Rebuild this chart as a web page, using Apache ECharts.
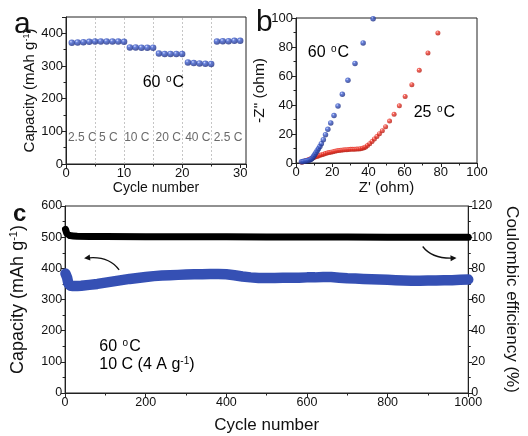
<!DOCTYPE html>
<html>
<head>
<meta charset="utf-8">
<script src="https://cdn.jsdelivr.net/npm/echarts@6/dist/echarts.min.js"></script>
<style>
html,body{margin:0;padding:0;background:#fff;}
#chart{width:528px;height:436px;}
</style>
</head>
<body>
<div id="chart"></div>
<script>
// ---------- Panel a: rate capability ----------
var rateCycles = [1,2,3,4,5,6,7,8,9,10,11,12,13,14,15,16,17,18,19,20,21,22,23,24,25,26,27,28,29,30];
var rateCapacity = [371,372,373,374,375,375,375,375,375,374,357,357,356,356,356,338,337,337,337,337,311,309,308,307,306,375,376,376,377,377];
var rateDividers = [5,10,15,20,25];
var rateNames = ['2.5 C','5 C','10 C','20 C','40 C','2.5 C'];
var rateNameX = [2.8,7.3,12.2,17.6,22.7,27.9];
var rateNameY = 82;

// ---------- Panel b: Nyquist plots ----------
var eis60 = [[3.0,0.8],[3.8,1.0],[4.5,1.2],[5.3,1.4],[6.0,1.6],[6.7,1.8],[7.4,2.1],[8.1,2.5],[8.7,3.0],[9.3,3.8],[9.8,4.8],[10.4,5.8],[11.0,7.0],[11.7,8.4],[12.4,9.8],[13.2,11.3],[14.0,13.3],[15.1,16.0],[16.3,19.5],[17.6,23.2],[19.2,27.6],[21.0,32.7],[23.2,39.3],[25.6,47.4],[28.7,57.0],[32.6,68.7],[37.1,82.8],[42.6,99.5]];
var eis25 = [[3.2,0.5],[4.0,0.9],[4.8,1.3],[5.6,1.7],[6.4,2.1],[7.2,2.5],[8.0,2.9],[8.8,3.3],[9.6,3.7],[10.5,4.1],[11.4,4.5],[12.3,4.9],[13.2,5.3],[14.2,5.7],[15.2,6.1],[16.2,6.5],[17.2,6.9],[18.2,7.2],[19.3,7.5],[20.4,7.8],[21.5,8.1],[22.6,8.4],[23.7,8.6],[24.8,8.8],[25.9,9.0],[27.0,9.1],[28.1,9.2],[29.2,9.3],[30.3,9.4],[31.4,9.4],[32.5,9.5],[33.6,9.6],[34.7,9.7],[35.7,9.9],[36.7,10.2],[37.6,10.6],[38.5,11.1],[39.5,12.0],[40.7,13.3],[42.0,14.9],[43.3,16.6],[44.7,18.3],[46.1,20.2],[47.7,22.3],[49.5,25.0],[51.7,28.9],[54.2,33.6],[57.1,39.4],[60.3,45.9],[64.0,54.0],[68.1,63.9],[72.9,75.9],[78.4,89.7]];

// ---------- Panel c: long cycling ----------
var longCycles = [1,3,5,8,12,20,30,40,60,80,100,120,140,160,180,200,220,240,260,280,300,320,340,360,380,400,420,440,460,480,500,520,540,560,580,600,620,640,660,680,700,720,740,760,780,800,820,840,860,880,900,920,940,960,980,1000];
var longCapacity = [383,380,370,352,345,343,343,344,347,350,354,358,362,366,369,372,375,377,378,379,380,381,381,382,382,381,378,374,371,369,369,369,370,370,370,371,371,372,372,370,368,367,366,365,364,363,362,361,360,360,361,361,362,362,363,364];
var effCycles = [1,2,4,6,8,12,20,30,60,100,200,300,400,500,600,700,800,900,1000];
var effValues = [105,104.5,102.5,101.8,101.3,101,100.8,100.6,100.5,100.4,100.3,100.3,100.2,100.1,100.1,100.1,100,100,100];

var FONT = '"Liberation Sans", Arial, sans-serif';
var BLUE = '#3550b4';

function sphere(c1, c2, c3){
  return {type:'radial', x:0.36, y:0.32, r:0.72,
    colorStops:[{offset:0,color:c1},{offset:0.3,color:c2},{offset:1,color:c3}]};
}
var blueBall = sphere('#c8d4ff','#3f5fcf','#1a2a7c');
var redBall = sphere('#ffd8d4','#f03a2e','#b01a10');

function pair(xs, ys){ return xs.map(function(x,i){ return [x, ys[i]]; }); }

function mkAxisX(grid, min, max, interval, name, gap, fs, labelFs){
  return {gridIndex:grid, type:'value', min:min, max:max, interval:interval,
    name:name, nameLocation:'middle', nameGap:gap,
    nameTextStyle:{fontFamily:FONT, fontSize:fs, color:'#111'},
    axisLine:{onZero:false, lineStyle:{color:'#222', width:1}},
    axisTick:{inside:false, length:4, lineStyle:{color:'#222'}},
    minorTick:{show:true, splitNumber:2, length:2.5, lineStyle:{color:'#222'}},
    axisLabel:{fontFamily:FONT, fontSize:labelFs, color:'#111', margin:3, showMaxLabel: max % interval === 0,
      formatter:function(v){ return String(v); }},
    splitLine:{show:false}};
}
function mkAxisY(grid, min, max, interval, name, gap, fs, labelFs, pos, rot){
  return {gridIndex:grid, type:'value', min:min, max:max, interval:interval, position:pos||'left',
    name:name, nameLocation:'middle', nameGap:gap, nameRotate: rot === undefined ? 90 : rot,
    nameTextStyle:{fontFamily:FONT, fontSize:fs, color:'#111',
      rich:{a:{fontFamily:FONT, fontSize:fs, color:'#111'}, s:{fontFamily:FONT, fontSize:Math.round(fs*0.62), color:'#111', padding:[0,0,fs*0.45,0]}}},
    axisLine:{onZero:false, lineStyle:{color:'#222', width:1}},
    axisTick:{inside:false, length:4, lineStyle:{color:'#222'}},
    minorTick:{show:true, splitNumber:2, length:2.5, lineStyle:{color:'#222'}},
    axisLabel:{fontFamily:FONT, fontSize:labelFs, color:'#111', margin:3, showMaxLabel: max % interval === 0,
      formatter:function(v){ return String(v); }},
    splitLine:{show:false}};
}

var degRich = {
  t:{fontFamily:FONT, fontSize:16, color:'#111'},
  o:{fontFamily:FONT, fontSize:10, color:'#111', padding:[0,1,7,1]}
};

var option = {
  animation:false,
  backgroundColor:'#fff',
  grid:[
    {left:66, top:17, width:180, height:147, show:true, borderColor:'#222', borderWidth:1, backgroundColor:'transparent'},
    {left:296, top:18, width:181, height:145, show:true, borderColor:'#222', borderWidth:1, backgroundColor:'transparent'},
    {left:62, top:206, width:411, height:187, show:true, borderColor:'#222', borderWidth:1, backgroundColor:'transparent'}
  ],
  xAxis:[
    mkAxisX(0, 0, 31, 10, 'Cycle number', 13, 14, 13),
    mkAxisX(1, 0, 100, 20, "Z' (ohm)", 13, 15, 13),
    mkAxisX(2, 0, 1000, 200, 'Cycle number', 24, 17, 12.5)
  ],
  yAxis:[
    mkAxisY(0, 0, 450, 100, '{a|Capacity (mAh g}{s|-1}{a|)}', 22, 15, 13),
    mkAxisY(1, 0, 100, 20, '-Z" (ohm)', 19, 15.5, 13),
    mkAxisY(2, 0, 600, 100, '{a|Capacity (mAh g}{s|-1}{a|)}', 38, 18, 12.5),
    mkAxisY(2, 0, 120, 20, 'Coulombic efficiency (%)', 30, 17, 12.5, 'right', -90)
  ],
  series:[
    {type:'scatter', xAxisIndex:0, yAxisIndex:0, symbolSize:6.5, z:5,
      itemStyle:{color:blueBall},
      data:pair(rateCycles, rateCapacity),
      markLine:{silent:true, symbol:['none','none'], label:{show:false},
        lineStyle:{color:'#b8b8b8', type:[2,2], width:0.8},
        data:rateDividers.map(function(v){ return {xAxis:v}; })}
    },
    {type:'scatter', xAxisIndex:0, yAxisIndex:0, symbolSize:0, silent:true,
      data:rateNameX.map(function(x,i){ return {value:[x, rateNameY], name:rateNames[i]}; }),
      label:{show:true, position:'inside', formatter:'{b}', fontFamily:FONT, fontSize:12, color:'#444'}
    },
    {type:'scatter', xAxisIndex:1, yAxisIndex:1, symbolSize:5, z:4,
      itemStyle:{color:redBall}, data:eis25},
    {type:'scatter', xAxisIndex:1, yAxisIndex:1, symbolSize:5.5, z:5,
      itemStyle:{color:blueBall}, data:eis60},
    {type:'line', xAxisIndex:2, yAxisIndex:2, symbol:'none', smooth:false,
      lineStyle:{color:BLUE, width:10.5, cap:'round', join:'round'},
      data:pair(longCycles, longCapacity)},
    {type:'line', xAxisIndex:2, yAxisIndex:3, symbol:'none', smooth:false,
      lineStyle:{color:'#000', width:7, cap:'round', join:'round'},
      data:pair(effCycles, effValues)}
  ],
  graphic:[]
};

var chart = echarts.init(document.getElementById('chart'), null, {renderer:'canvas'});
chart.setOption(option);

function px(grid, xi, yi, pt){ return chart.convertToPixel({xAxisIndex:xi, yAxisIndex:yi}, pt); }
function degText(x, y, pre, post){
  return {type:'text', x:x, y:y, z:20,
    style:{text:'{t|'+pre+'}{o|o}{t|'+post+'}', rich:degRich, textVerticalAlign:'middle'}};
}
var g = [];
g.push({type:'text', left:14, top:10, style:{text:'a', font:'normal 30px '+FONT, fill:'#111'}});
g.push({type:'text', left:256, top:8, style:{text:'b', font:'normal 30px '+FONT, fill:'#111'}});
g.push({type:'text', left:13, top:202, style:{text:'c', font:'bold 24px '+FONT, fill:'#111'}});
var pA = px(0,0,0,[13.2, 250]);
g.push(degText(pA[0], pA[1], '60 ', 'C'));
var pB1 = px(1,1,1,[6.5, 76]);
g.push(degText(pB1[0], pB1[1], '60 ', 'C'));
var pB2 = px(1,1,1,[65, 34.5]);
g.push(degText(pB2[0], pB2[1], '25 ', 'C'));
var pC1 = px(2,2,2,[85, 150]);
g.push(degText(pC1[0], pC1[1], '60 ', 'C'));
var pC2 = px(2,2,2,[85, 91]);
g.push({type:'text', x:pC2[0], y:pC2[1], z:20, style:{
  text:'{t|10 C (4 A g}{s|-1}{t|)}', textVerticalAlign:'middle',
  rich:{t:{fontFamily:FONT, fontSize:16, color:'#111'}, s:{fontFamily:FONT, fontSize:10, color:'#111', padding:[0,0,7,0]}}}});

function arrow(a, c, b, yi){
  var P0 = px(2,2,yi,a), C = px(2,2,yi,c), P2 = px(2,2,yi,b);
  g.push({type:'bezierCurve', z:20, shape:{x1:P0[0], y1:P0[1], cpx1:C[0], cpy1:C[1], x2:P2[0], y2:P2[1]},
    style:{stroke:'#111', lineWidth:1.3, fill:null}});
  var dx = P2[0]-C[0], dy = P2[1]-C[1], L = Math.sqrt(dx*dx+dy*dy); dx/=L; dy/=L;
  var len = 6, w = 3;
  var bx = P2[0]+dx*2, by = P2[1]+dy*2;
  g.push({type:'polygon', z:21, shape:{points:[[bx,by],[bx-dx*len-dy*w, by-dy*len+dx*w],[bx-dx*len+dy*w, by-dy*len-dx*w]]},
    style:{fill:'#111'}});
}
arrow([134,395],[108,442],[52,433],2);
arrow([887,470],[911,429],[966,433],2);

chart.setOption({graphic:g});
</script>
</body>
</html>
